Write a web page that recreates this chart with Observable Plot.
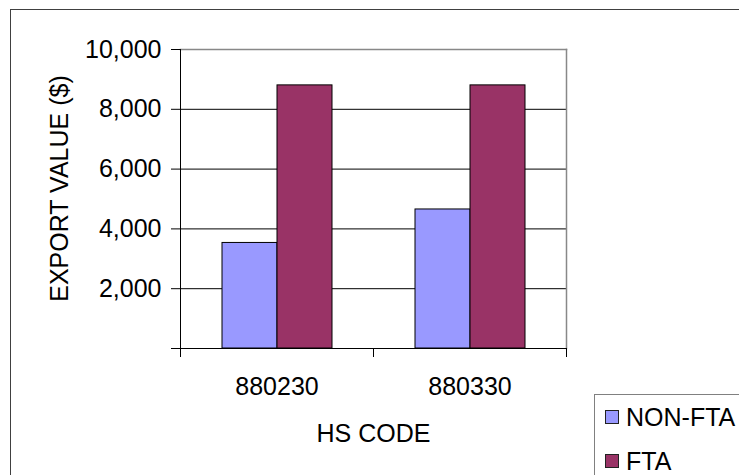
<!DOCTYPE html>
<html><head><meta charset="utf-8">
<script src="https://cdn.jsdelivr.net/npm/d3@7"></script>
<script src="https://cdn.jsdelivr.net/npm/@observablehq/plot@0.6"></script>
<style>
html,body{margin:0;padding:0;overflow:hidden;background:#fff;}
#wrap{position:relative;width:739px;height:475px;overflow:hidden;font-family:"Liberation Sans",Arial,sans-serif;}
#border{position:absolute;left:10px;top:9px;width:800px;height:600px;border:1px solid #404040;box-sizing:border-box;}
#chart{position:absolute;left:0;top:0;}
#legend{position:absolute;left:594px;top:394px;width:300px;height:200px;border-left:1px solid #808080;border-top:1px solid #808080;background:#fff;}
.item{position:absolute;left:10px;height:24px;display:flex;align-items:center;font-size:25px;line-height:24px;white-space:nowrap;color:#000;}
.sw{width:12px;height:12px;border:1px solid #222;margin-right:7px;}
</style></head><body><div id="wrap"><div id="border"></div><div id="chart"></div><div id="legend"></div></div>
<script>
const codes = ["880230", "880330"];
const series = ["NON-FTA", "FTA"];
const nonFtaValues = [3530, 4650];
const ftaValues = [8800, 8800];
const yTicks = [0, 2000, 4000, 6000, 8000, 10000];
const yTickLabels = ["", "2,000", "4,000", "6,000", "8,000", "10,000"];
const colors = ["#9999FF", "#993366"];
const xTitle = "HS CODE";
const yTitle = "EXPORT VALUE ($)";

const rows = codes.flatMap((c, i) => [
  {code: c, series: series[0], value: nonFtaValues[i]},
  {code: c, series: series[1], value: ftaValues[i]}
]);

const W = 739, H = 475, mL = 179, mR = 173, mT = 49, mB = 127;
const plotH = H - mT - mB;
const fs = 25;
const font = "'Liberation Sans', Arial, sans-serif";

const chart = Plot.plot({
  width: W, height: H,
  marginLeft: mL, marginRight: mR, marginTop: mT, marginBottom: mB,
  style: {fontFamily: font, fontSize: fs + "px", color: "#000", background: "transparent", overflow: "visible"},
  fx: {domain: codes, padding: 0},
  x: {domain: series, paddingInner: 0, paddingOuter: 0.743, axis: null},
  y: {domain: [yTicks[0], yTicks[yTicks.length - 1]]},
  color: {domain: series, range: colors},
  marks: [
    Plot.gridY(yTicks.slice(1, -1), {stroke: "#000", strokeOpacity: 1}),
    Plot.frame({anchor: "top", stroke: "#888", strokeWidth: 1.5, facet: "super"}),
    Plot.frame({anchor: "right", stroke: "#888", strokeWidth: 1.5, facet: "super"}),
    Plot.barY(rows, {fx: "code", x: "series", y: "value", fill: "series", stroke: "#000", strokeWidth: 1}),
    Plot.ruleY([0], {stroke: "#000"}),
    Plot.frame({anchor: "left", stroke: "#000", facet: "super", insetBottom: -8}),
    Plot.frame({anchor: "left", stroke: "#000", insetTop: plotH, insetBottom: -8}),
    Plot.frame({anchor: "right", stroke: "#000", insetTop: plotH, insetBottom: -8}),
    Plot.axisY({ticks: yTicks, tickFormat: d => yTickLabels[yTicks.indexOf(d)], tickSize: 9, tickPadding: 10, fontSize: fs, label: null, stroke: "#000"}),
    Plot.axisFx({anchor: "bottom", tickSize: 0, tickPadding: 29, fontSize: fs, label: xTitle, labelAnchor: "center", labelOffset: 93}),
    Plot.text([yTitle], {text: d => d, frameAnchor: "left", textAnchor: "middle", lineAnchor: "middle", rotate: -90, dx: -121, dy: -10.5, fontSize: fs, fill: "#000", facet: "super"})
  ]
});
document.getElementById("chart").appendChild(chart);

const color = chart.scale("color");
const legend = d3.select("#legend");
series.forEach((s, i) => {
  const item = legend.append("div").attr("class", "item").style("top", (10 + i * 44) + "px");
  item.append("div").attr("class", "sw").style("background", color.apply(s));
  item.append("span").text(s);
});
</script>
</body></html>
